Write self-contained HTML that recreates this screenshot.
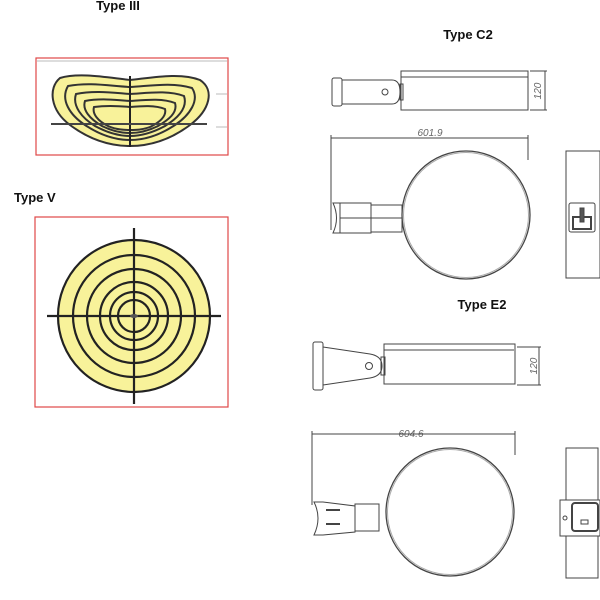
<!DOCTYPE html>
<html><head><meta charset="utf-8"><style>body{margin:0;background:#fff}svg{display:block}text{font-family:"Liberation Sans",sans-serif}</style></head><body>
<svg width="600" height="600" viewBox="0 0 600 600" xmlns="http://www.w3.org/2000/svg">
<g font-weight="bold" font-size="13" fill="#111">
<text x="118" y="10" text-anchor="middle">Type III</text>
<text x="14" y="202">Type V</text>
<text x="468" y="39" text-anchor="middle">Type C2</text>
<text x="482" y="309" text-anchor="middle">Type E2</text>
</g>
<!-- Type III -->
<rect x="36" y="58" width="192" height="97" fill="none" stroke="#e04848" stroke-width="1.2"/>
<line x1="37" y1="61" x2="227" y2="61" stroke="#bbb"/>
<g stroke="#333" stroke-width="2" fill="#f8f29a">
<path d="M60,78 C80,72 110,78 130,80 C150,78 180,72 200,80 C215,90 210,110 190,125 C170,140 150,146 130,146 C110,146 90,140 70,125 C50,110 48,88 60,78Z"/>
<path d="M68,86 C90,82 110,86 130,87 C150,86 172,82 192,88 C200,100 190,115 175,125 C160,135 145,140 130,140 C115,140 100,135 85,125 C70,115 60,100 68,86Z" fill="none"/>
<path d="M76,94 C95,90 115,93 130,94 C148,93 168,90 184,96 C188,108 178,118 165,126 C152,133 140,136 130,136 C118,136 106,132 95,126 C82,118 72,106 76,94Z" fill="none"/>
<path d="M85,101 C100,98 118,100 130,101 C145,100 162,98 175,103 C178,113 168,120 158,126 C148,131 138,133 130,133 C120,133 110,130 102,126 C90,119 82,110 85,101Z" fill="none"/>
<path d="M94,107 C108,105 120,106 130,107 C142,106 155,105 165,109 C167,117 158,123 150,127 C142,130 136,130 130,130 C122,130 114,129 108,126 C98,121 92,114 94,107Z" fill="none"/>
</g>
<line x1="130" y1="76" x2="130" y2="147" stroke="#222" stroke-width="2"/>
<line x1="51" y1="124" x2="207" y2="124" stroke="#444" stroke-width="2"/>
<line x1="216" y1="94" x2="227" y2="94" stroke="#bbb"/><line x1="216" y1="127" x2="227" y2="127" stroke="#bbb"/>
<!-- Type V -->
<rect x="35" y="217" width="193" height="190" fill="none" stroke="#e04848" stroke-width="1.2"/>
<g stroke="#222" stroke-width="2.2" fill="none">
<circle cx="134" cy="316" r="76" fill="#f8f29a"/>
<circle cx="134" cy="316" r="61"/><circle cx="134" cy="316" r="47"/><circle cx="134" cy="316" r="34"/><circle cx="134" cy="316" r="24"/><circle cx="134" cy="316" r="16"/>
<line x1="47" y1="316" x2="221" y2="316"/><line x1="134" y1="228" x2="134" y2="404"/>
</g>
<ellipse cx="134" cy="316" rx="4" ry="2" fill="#555"/>
<!-- Type C2 -->
<g stroke="#444" stroke-width="1" fill="none">
<rect x="332" y="78" width="10" height="28" rx="2"/>
<path d="M342,80 H392 Q400,80 400,92 Q400,104 392,104 H342"/>
<circle cx="385" cy="92" r="3"/>
<rect x="400" y="84" width="3" height="16"/>
<rect x="401" y="71" width="127" height="39"/>
<line x1="401" y1="77" x2="528" y2="77"/>
<line x1="530" y1="71" x2="547" y2="71"/><line x1="530" y1="110" x2="547" y2="110"/><line x1="545" y1="71" x2="545" y2="110"/>
<line x1="331" y1="138" x2="528" y2="138"/><line x1="331" y1="135" x2="331" y2="230"/><line x1="528" y1="135" x2="528" y2="160"/>
<circle cx="466" cy="215" r="64" stroke-width="1.3"/>
<circle cx="466" cy="215" r="62.5" stroke="#aaa"/>
<path d="M333,203 H340 V233 H333 Q340,218 333,203Z"/>
<rect x="340" y="203" width="31" height="30"/><rect x="371" y="205" width="31" height="27"/>
<line x1="340" y1="218" x2="402" y2="218"/>
<rect x="566" y="151" width="34" height="127"/>
<rect x="569" y="203" width="26" height="29" rx="2"/>
<rect x="573" y="217" width="18" height="12" stroke-width="2"/>
<rect x="580" y="208" width="4" height="14" fill="#555"/>
</g>
<g font-size="10" fill="#666" font-style="italic">
<text x="430" y="136" text-anchor="middle">601.9</text>
<text transform="translate(541,91) rotate(-90)" text-anchor="middle">120</text>
<text x="411" y="437" text-anchor="middle">604.6</text>
<text transform="translate(537,366) rotate(-90)" text-anchor="middle">120</text>
</g>
<!-- Type E2 -->
<g stroke="#444" stroke-width="1" fill="none">
<rect x="313" y="342" width="10" height="48" rx="2"/>
<path d="M323,347 L370,354 Q382,356 382,366 Q382,376 370,378 L323,385"/>
<circle cx="369" cy="366" r="3.5"/>
<rect x="381" y="357" width="4" height="18"/>
<rect x="384" y="344" width="131" height="40"/>
<line x1="384" y1="350" x2="514" y2="350"/>
<line x1="517" y1="347" x2="541" y2="347"/><line x1="517" y1="385" x2="541" y2="385"/><line x1="539" y1="347" x2="539" y2="385"/>
<line x1="312" y1="434" x2="515" y2="434"/><line x1="312" y1="431" x2="312" y2="505"/><line x1="515" y1="431" x2="515" y2="455"/>
<circle cx="450" cy="512" r="64" stroke-width="1.3"/>
<circle cx="450" cy="512" r="62.5" stroke="#aaa"/>
<path d="M314,502 H323 L355,506 V532 L323,535 H314 Q322,518 314,502Z"/>
<rect x="355" y="504" width="24" height="27"/>
<line x1="326" y1="510" x2="340" y2="510" stroke-width="2"/><line x1="326" y1="524" x2="340" y2="524" stroke-width="2"/>
<rect x="566" y="448" width="32" height="130"/>
<rect x="560" y="500" width="40" height="36" fill="#fff"/>
<rect x="572" y="503" width="26" height="28" rx="3" stroke-width="2"/>
<rect x="581" y="520" width="7" height="4"/>
<circle cx="565" cy="518" r="2"/>
</g>
</svg>
</body></html>
